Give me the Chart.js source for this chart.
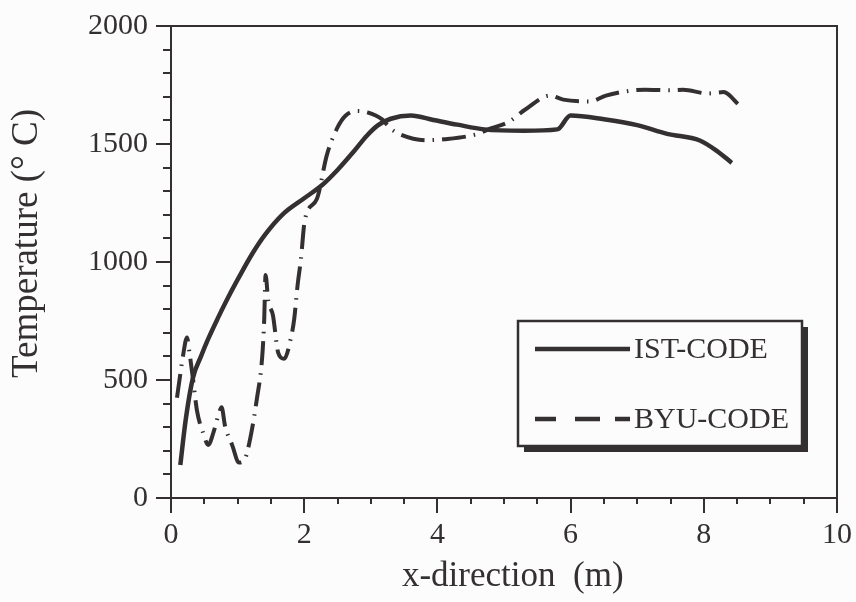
<!DOCTYPE html>
<html lang="en">
<head>
<meta charset="UTF-8">
<title>Temperature along the x-direction</title>
<script src="https://cdn.jsdelivr.net/npm/chart.js"></script>
<style>
  html, body { margin: 0; padding: 0; background: #fcfcfc; }
  #wrap { width: 856px; height: 602px; }
</style>
</head>
<body>
<div id="wrap"><canvas id="tempChart" width="856" height="602"></canvas></div>
<script>
// IST-CODE profile (x in m, temperature in °C)
const istX = [0.14, 0.22, 0.33, 0.45, 0.56, 0.7, 0.84, 1.0, 1.22, 1.41, 1.67, 2.0, 2.27, 2.5, 2.75, 2.94,
              3.1, 3.3, 3.6, 3.94, 4.3, 4.7, 5.3, 5.8, 6.0, 6.5, 7.0, 7.45, 7.94, 8.2, 8.42];
const istTemp = [140, 330, 510, 600, 675, 760, 840, 925, 1035, 1115, 1200, 1270, 1326, 1390, 1470, 1535,
                 1578, 1607, 1621, 1602, 1582, 1562, 1556, 1562, 1621, 1605, 1580, 1543, 1515, 1470, 1420];

// BYU-CODE profile
const byuX = [0.09, 0.14, 0.18, 0.24, 0.28, 0.33, 0.39, 0.48, 0.56, 0.64, 0.72, 0.76, 0.81, 0.92, 1.02, 1.11,
              1.19, 1.29, 1.37, 1.40, 1.42, 1.46, 1.53, 1.61, 1.7, 1.8, 1.85, 1.9, 1.95, 2.01, 2.19, 2.34,
              2.5, 2.62, 2.8, 2.95, 3.17, 3.3, 3.44, 3.84, 4.1, 4.58, 4.8, 5.06, 5.32, 5.69, 5.89, 6.29,
              6.53, 6.9, 7.12, 7.49, 7.69, 8.06, 8.3, 8.36, 8.51];
const byuTemp = [425, 526, 602, 680, 610, 505, 370, 278, 225, 280, 360, 385, 307, 223, 150, 165,
                 253, 421, 600, 760, 945, 835, 775, 615, 590, 678, 758, 900, 1010, 1179, 1267, 1453,
                 1570, 1620, 1640, 1634, 1604, 1565, 1541, 1516, 1520, 1541, 1566, 1592, 1646, 1705, 1688, 1680,
                 1705, 1726, 1730, 1728, 1730, 1714, 1720, 1712, 1670];

const xTicks = [0, 2, 4, 6, 8, 10];
const yTicks = [0, 500, 1000, 1500, 2000];
const seriesNames = ['IST-CODE', 'BYU-CODE'];

const ink = '#343032';
const serif = '"Liberation Serif", "Times New Roman", serif';
Chart.defaults.font.family = serif;
Chart.defaults.color = ink;

function toPoints(xs, ys) {
  return xs.map((v, i) => ({ x: v, y: ys[i] }));
}

// top/right frame plus the small minor tick marks
const frameTicks = {
  id: 'frameTicks',
  afterDraw(chart) {
    const { ctx, chartArea: a, scales: { x, y } } = chart;
    ctx.save();
    ctx.strokeStyle = ink;
    ctx.lineWidth = 2;
    ctx.beginPath();
    ctx.moveTo(a.left, a.top);
    ctx.lineTo(a.right, a.top);
    ctx.lineTo(a.right, a.bottom);
    for (let v = 0.5; v < 10; v += 0.5) {
      if (v % 2 === 0) continue;
      const px = Math.round(x.getPixelForValue(v));
      ctx.moveTo(px, a.bottom);
      ctx.lineTo(px, a.bottom + 6);
    }
    for (let v = 100; v < 2000; v += 100) {
      if (v % 500 === 0) continue;
      const py = Math.round(y.getPixelForValue(v));
      ctx.moveTo(a.left - 8, py);
      ctx.lineTo(a.left, py);
    }
    ctx.stroke();
    ctx.restore();
  }
};

// legend box with drop shadow, inside the plot
const legendDash = [[], [21, 19, 25, 15]];
const boxLegend = {
  id: 'boxLegend',
  afterDraw(chart) {
    const { ctx, chartArea: a } = chart;
    const bx = a.left + 347, by = a.top + 295, bw = 284, bh = 125;
    ctx.save();
    ctx.fillStyle = ink;
    ctx.fillRect(bx + 6, by + 6, bw, bh);
    ctx.fillStyle = '#fcfcfc';
    ctx.fillRect(bx, by, bw, bh);
    ctx.lineWidth = 2.5;
    ctx.strokeStyle = ink;
    ctx.strokeRect(bx, by, bw, bh);
    chart.data.datasets.forEach((ds, i) => {
      const ly = by + 28 + i * 70;
      ctx.beginPath();
      ctx.setLineDash(legendDash[i]);
      ctx.lineWidth = 4.5;
      ctx.moveTo(bx + 17, ly);
      ctx.lineTo(bx + 112, ly);
      ctx.stroke();
      ctx.setLineDash([]);
      ctx.font = '30px ' + serif;
      ctx.fillStyle = ink;
      ctx.textBaseline = 'middle';
      ctx.fillText(ds.label, bx + 116, ly + 1);
    });
    ctx.restore();
  }
};

const axisCommon = {
  type: 'linear',
  grid: { drawOnChartArea: false, color: ink, lineWidth: 2, tickLength: 15 },
  border: { display: true, color: ink, width: 2 },
  ticks: { font: { size: 30 }, color: ink, callback: v => String(v) }
};

new Chart(document.getElementById('tempChart'), {
  type: 'line',
  data: {
    datasets: [
      {
        label: seriesNames[0],
        data: toPoints(istX, istTemp),
        borderColor: ink,
        borderWidth: 4.5,
        cubicInterpolationMode: 'monotone',
        pointRadius: 0,
        fill: false
      },
      {
        label: seriesNames[1],
        data: toPoints(byuX, byuTemp),
        borderColor: ink,
        borderWidth: 4,
        borderDash: [24, 8, 1.5, 8],
        cubicInterpolationMode: 'monotone',
        pointRadius: 0,
        fill: false
      }
    ]
  },
  options: {
    responsive: false,
    animation: false,
    layout: { padding: { top: 23, right: 19, left: 0, bottom: 0 } },
    plugins: { legend: { display: false }, tooltip: { enabled: false } },
    scales: {
      x: {
        ...axisCommon,
        min: 0, max: 10,
        afterBuildTicks: s => { s.ticks = xTicks.map(v => ({ value: v })); },
        afterFit: s => { s.height = 104; },
        ticks: { ...axisCommon.ticks, padding: 4, maxRotation: 0 },
        title: { display: true, text: '  x-direction  (m)', font: { size: 35 }, color: ink, padding: { top: 0, bottom: 4 } }
      },
      y: {
        ...axisCommon,
        min: 0, max: 2000,
        afterBuildTicks: s => { s.ticks = yTicks.map(v => ({ value: v })); },
        afterFit: s => { s.width = 171; },
        ticks: { ...axisCommon.ticks, padding: 8 },
        title: { display: true, text: '    Temperature (° C)', font: { size: 37 }, color: ink, padding: { top: 5, bottom: 0 } }
      }
    }
  },
  plugins: [frameTicks, boxLegend]
});
</script>
</body>
</html>
